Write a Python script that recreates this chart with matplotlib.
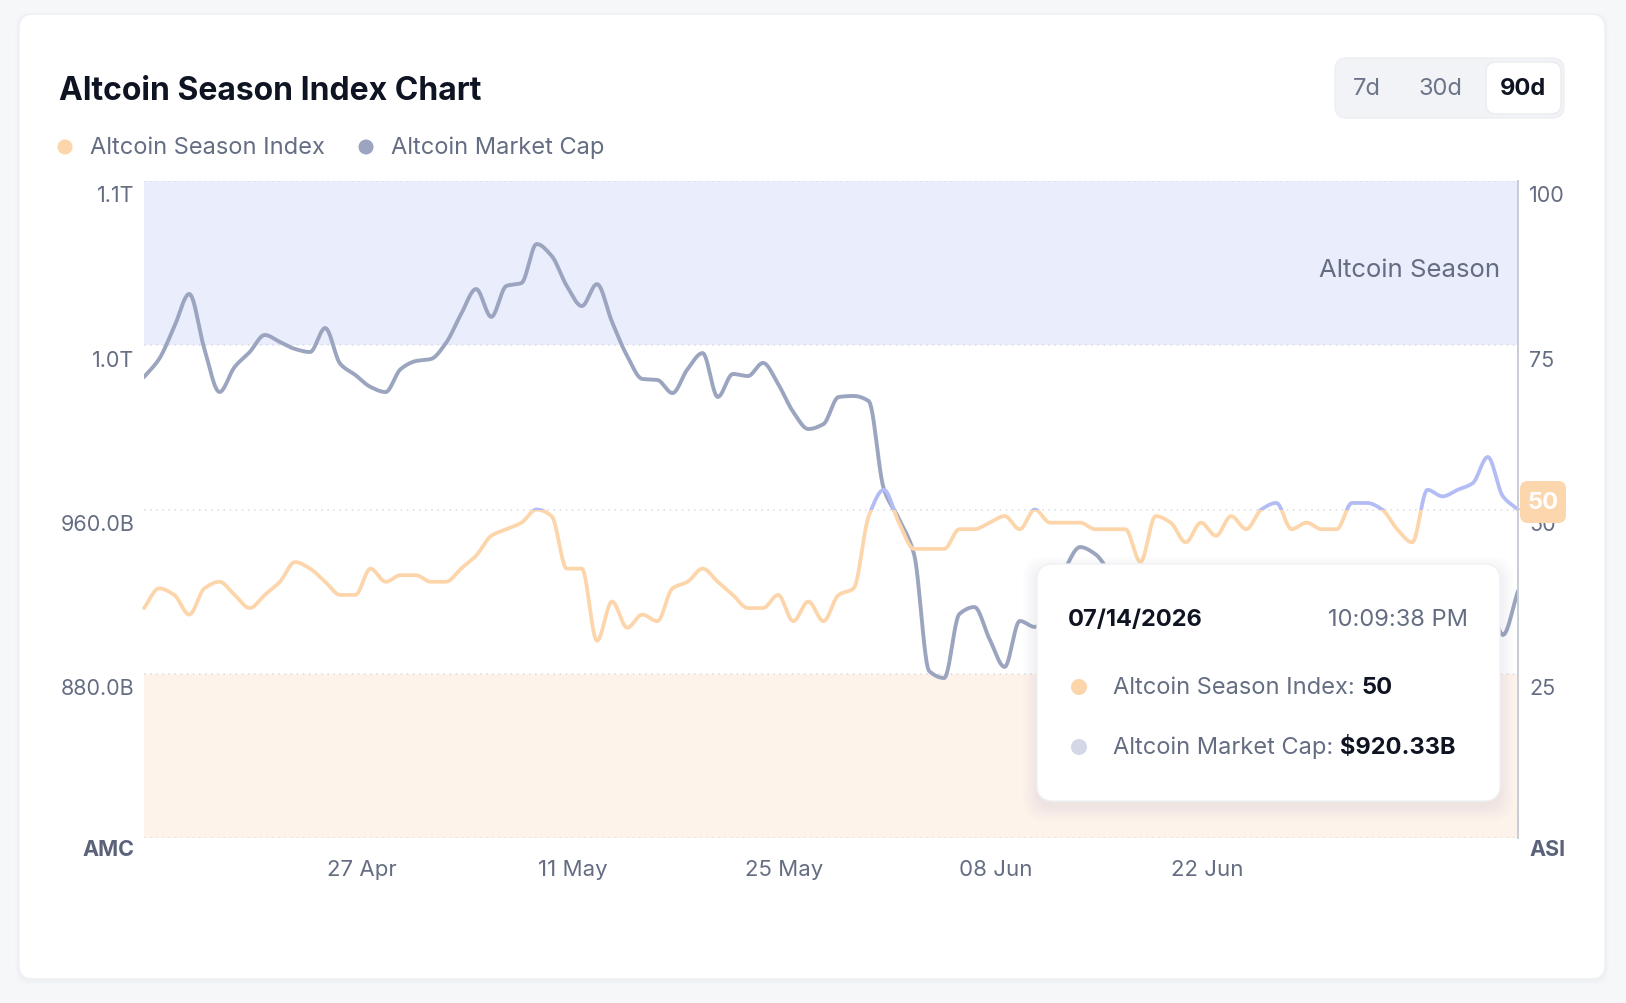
import datetime as dt

import numpy as np
import matplotlib
matplotlib.use("Agg")
import matplotlib.pyplot as plt
import matplotlib.dates as mdates
from matplotlib.patches import FancyBboxPatch, Rectangle, Circle
from matplotlib.transforms import blended_transform_factory, ScaledTranslation

plt.rcParams['font.family'] = ['Inter', 'DejaVu Sans']

# ---- data ----
start = dt.date(2026, 4, 13)
dates = [start + dt.timedelta(days=i) for i in range(92)]

season_index = [35, 38, 37, 34, 38, 39, 37, 35, 37, 39,
                42, 41, 39, 37, 37, 41, 39, 40, 40, 39,
                39, 41, 43, 46, 47, 48, 50, 49, 41, 41,
                30, 36, 32, 34, 33, 38, 39, 41, 39, 37,
                35, 35, 37, 33, 36, 33, 37, 38, 49, 53,
                48, 44, 44, 44, 47, 47, 48, 49, 47, 50,
                48, 48, 48, 47, 47, 47, 42, 49, 48, 45,
                48, 46, 49, 47, 50, 51, 47, 48, 47, 47,
                51, 51, 50, 47, 45, 53, 52, 53, 54, 58,
                52, 50]

# altcoin market cap, billions USD
market_cap = [1024.5, 1033.3, 1048.9, 1065.0, 1038.2, 1017.2, 1029.4, 1036.7, 1045.0, 1041.6,
              1038.2, 1036.7, 1048.4, 1030.9, 1025.5, 1019.7, 1017.2, 1028.4, 1032.3, 1033.3,
              1041.1, 1055.2, 1067.4, 1053.8, 1068.9, 1070.3, 1089.3, 1083.5, 1068.9, 1059.1,
              1069.8, 1051.3, 1034.8, 1023.6, 1023.1, 1016.7, 1028.4, 1036.2, 1014.8, 1026.0,
              1025.0, 1031.4, 1021.1, 1007.5, 999.2, 1001.6, 1014.8, 1015.3, 1012.8, 970.0,
              955.4, 938.3, 881.3, 877.9, 909.1, 912.5, 896.9, 883.3, 905.7, 902.8,
              911.5, 931.0, 941.7, 938.3, 928.6, 916.4, 896.9, 877.4, 867.7, 872.6,
              858.0, 840.5, 828.0, 823.0, 820.5, 826.0, 838.5, 848.2, 843.3, 850.7,
              858.0, 867.7, 872.6, 867.7, 862.8, 870.1, 877.4, 872.6, 882.3, 916.4,
              898.9, 920.33]

cap_ticks = [800, 880, 960, 1040, 1120]
cap_labels = ["AMC", "880.0B", "960.0B", "1.0T", "1.1T"]
index_ticks = [0, 25, 50, 75, 100]
index_labels = ["ASI", "25", "50", "75", "100"]
date_ticks = [dt.date(2026, 4, 27), dt.date(2026, 5, 11), dt.date(2026, 5, 25),
              dt.date(2026, 6, 8), dt.date(2026, 6, 22)]
ranges = ["7d", "30d", "90d"]
tip_date = "07/14/2026"
tip_time = "10:09:38 PM"
tip_index = "50"
tip_cap = "$920.33B"

# colours
C_TEXT = "#646d82"
C_DARK = "#0f1422"
C_ORANGE = "#fdd5aa"
C_BLUE = "#b3bcf4"
C_CAP = "#9ca5bf"


def smooth(x, y, n=12):
    # monotone cubic curve through the points, for drawing only
    x = np.asarray(x, float)
    y = np.asarray(y, float)
    h = np.diff(x)
    d = np.diff(y) / h
    m = np.zeros_like(y)
    m[0], m[-1] = d[0], d[-1]
    for k in range(1, len(y) - 1):
        if d[k - 1] * d[k] <= 0:
            m[k] = 0
        else:
            w1 = 2 * h[k] + h[k - 1]
            w2 = h[k] + 2 * h[k - 1]
            m[k] = (w1 + w2) / (w1 / d[k - 1] + w2 / d[k])
    xs, ys = [], []
    t = np.linspace(0, 1, n, endpoint=False)
    h00 = 2 * t**3 - 3 * t**2 + 1
    h10 = t**3 - 2 * t**2 + t
    h01 = -2 * t**3 + 3 * t**2
    h11 = t**3 - t**2
    for k in range(len(h)):
        xs.append(x[k] + t * h[k])
        ys.append(h00 * y[k] + h10 * h[k] * m[k] + h01 * y[k + 1] + h11 * h[k] * m[k + 1])
    xs.append([x[-1]])
    ys.append([y[-1]])
    return np.concatenate(xs), np.concatenate(ys)


W, H = 1626, 1004
fig = plt.figure(figsize=(W / 100, H / 100), dpi=100, facecolor="#f6f7f9")

# background layer: card, title, legend, range buttons
bg = fig.add_axes([0, 0, 1, 1], zorder=0)
bg.set_xlim(0, W)
bg.set_ylim(H, 0)
bg.axis("off")

for i in range(5):
    bg.add_patch(FancyBboxPatch((19 - i, 15 - i + 2), 1586 + 2 * i, 965 + 2 * i,
                                boxstyle="round,pad=0,rounding_size=16",
                                fc="#9aa0b0", ec="none", alpha=0.012))
bg.add_patch(FancyBboxPatch((19, 15), 1586, 965, boxstyle="round,pad=0,rounding_size=14",
                            fc="white", ec="#eef0f3", lw=1))

bg.text(59, 91, "Altcoin Season Index Chart", fontsize=23, fontweight="bold",
        color=C_DARK, va="center", ha="left")

bg.add_patch(Circle((65, 148), 7.5, fc=C_ORANGE, ec="none"))
bg.text(90, 148, "Altcoin Season Index", fontsize=17, color=C_TEXT, va="center")
bg.add_patch(Circle((366, 148), 7.5, fc=C_CAP, ec="none"))
bg.text(391, 148, "Altcoin Market Cap", fontsize=17, color=C_TEXT, va="center")

bg.add_patch(FancyBboxPatch((1335, 59), 229, 60, boxstyle="round,pad=0,rounding_size=12",
                            fc="#f1f3f6", ec="#eceef2", lw=1))
bg.add_patch(FancyBboxPatch((1486, 63), 75, 52, boxstyle="round,pad=0,rounding_size=10",
                            fc="white", ec="#e9ebef", lw=1))
for label, xc in zip(ranges, [1367, 1440, 1523]):
    active = label == ranges[-1]
    bg.text(xc, 89, label, fontsize=17, ha="center", va="center",
            color=C_DARK if active else "#6b7489",
            fontweight="bold" if active else "normal")

# chart axes
ax = fig.add_axes([144 / W, 1 - 839 / H, (1518 - 144) / W, (839 - 182) / H], zorder=1)
ax.set_facecolor("none")
ax2 = ax.twinx()
ax2.set_zorder(2)
ax2.patch.set_visible(False)

xnum = mdates.date2num(dates)
ax.set_xlim(xnum[0], xnum[-1])
ax.set_ylim(cap_ticks[0], cap_ticks[-1])
ax2.set_ylim(index_ticks[0], index_ticks[-1])

# zones of the season index
zone = blended_transform_factory(ax.transAxes, ax2.transData)
ax.add_patch(Rectangle((0, 75), 1, 25, transform=zone, fc="#e9edfc", ec="none", zorder=0.2))
ax.add_patch(Rectangle((0, 0), 1, 25, transform=zone, fc="#fef3ea", ec="none", zorder=0.2))
ax2.annotate("Altcoin Season", xy=(1, 86.6), xycoords=("axes fraction", "data"),
             xytext=(-18, 0), textcoords="offset pixels", ha="right", va="center",
             fontsize=18.5, color=C_TEXT)

ax.set_axisbelow(True)
ax.grid(axis="y", color="#d8dbe3", linestyle=(0, (1, 3)), linewidth=1.1)
ax.grid(axis="x", visible=False)

for s in ax.spines.values():
    s.set_visible(False)
for name in ["left", "top", "bottom"]:
    ax2.spines[name].set_visible(False)
ax2.spines["right"].set_color("#c8ccd5")
ax2.spines["right"].set_linewidth(1.4)

ax.set_yticks(cap_ticks, cap_labels)
ax2.set_yticks(index_ticks, index_labels)
ax.set_xticks(mdates.date2num(date_ticks), [d.strftime("%d %b") for d in date_ticks])
ax.tick_params(axis="y", length=0, pad=7, labelsize=15.5, labelcolor=C_TEXT)
ax2.tick_params(axis="y", length=0, pad=8, labelsize=15.5, labelcolor=C_TEXT)
ax.tick_params(axis="x", length=0, pad=15, labelsize=16, labelcolor=C_TEXT)

down = ScaledTranslation(0, -0.125, fig.dpi_scale_trans)
for lab in ax.get_yticklabels() + ax2.get_yticklabels():
    lab.set_transform(lab.get_transform() + down)
for lab in [ax.get_yticklabels()[0], ax2.get_yticklabels()[0]]:
    lab.set_fontweight("bold")
    lab.set_color("#5a6379")
    lab.set_transform(lab.get_transform() + ScaledTranslation(0, 0.03, fig.dpi_scale_trans))
right = ScaledTranslation(0.06, 0, fig.dpi_scale_trans)
for lab in ax.get_xticklabels():
    lab.set_transform(lab.get_transform() + right)

# lines
cx, cy = smooth(xnum, market_cap)
ax.plot(cx, cy, color=C_CAP, lw=2.8, solid_capstyle="round", zorder=3)

sx, sy = smooth(xnum, season_index)
above = Rectangle((xnum[0] - 2, 50), xnum[-1] - xnum[0] + 4, 60, transform=ax2.transData)
below = Rectangle((xnum[0] - 2, -10), xnum[-1] - xnum[0] + 4, 60, transform=ax2.transData)
l1, = ax2.plot(sx, sy, color=C_ORANGE, lw=2.7, solid_capstyle="round")
l1.set_clip_path(below)
l2, = ax2.plot(sx, sy, color=C_BLUE, lw=2.7, solid_capstyle="round")
l2.set_clip_path(above)

# foreground: tooltip and value badge
fg = fig.add_axes([0, 0, 1, 1], zorder=3)
fg.set_xlim(0, W)
fg.set_ylim(H, 0)
fg.axis("off")
fg.patch.set_alpha(0)

for i in range(8):
    fg.add_patch(FancyBboxPatch((1037 - i * 2, 565 - i * 2 + 6), 463 + i * 4, 237 + i * 4,
                                boxstyle="round,pad=0,rounding_size=%d" % (16 + i),
                                fc="#8a90a6", ec="none", alpha=0.012))
fg.add_patch(FancyBboxPatch((1037, 565), 463, 237, boxstyle="round,pad=0,rounding_size=16",
                            fc="white", ec="#f0f1f4", lw=1))
fg.text(1068, 620, tip_date, fontsize=17, fontweight="bold", color=C_DARK, va="center")
fg.text(1468, 620, tip_time, fontsize=17, color=C_TEXT, va="center", ha="right")

fg.add_patch(Circle((1079, 688), 8, fc=C_ORANGE, ec="none"))
t1 = fg.text(1113, 688, "Altcoin Season Index: ", fontsize=17, color=C_TEXT, va="center")
fg.annotate(tip_index, xy=(1, 0.5), xycoords=t1, va="center", ha="left",
            fontsize=17, fontweight="bold", color=C_DARK)
fg.add_patch(Circle((1079, 748), 8, fc="#d4d8e6", ec="none"))
t2 = fg.text(1113, 748, "Altcoin Market Cap: ", fontsize=17, color=C_TEXT, va="center")
fg.annotate(tip_cap, xy=(1, 0.5), xycoords=t2, va="center", ha="left",
            fontsize=17, fontweight="bold", color=C_DARK)

fg.add_patch(FancyBboxPatch((1520, 482), 46, 42, boxstyle="round,pad=0,rounding_size=8",
                            fc="#fcd6ac", ec="none"))
fg.text(1543, 503, str(season_index[-1]), fontsize=17, fontweight="bold", color="white",
        ha="center", va="center")

fig.savefig("out.png", dpi=100, facecolor=fig.get_facecolor())
